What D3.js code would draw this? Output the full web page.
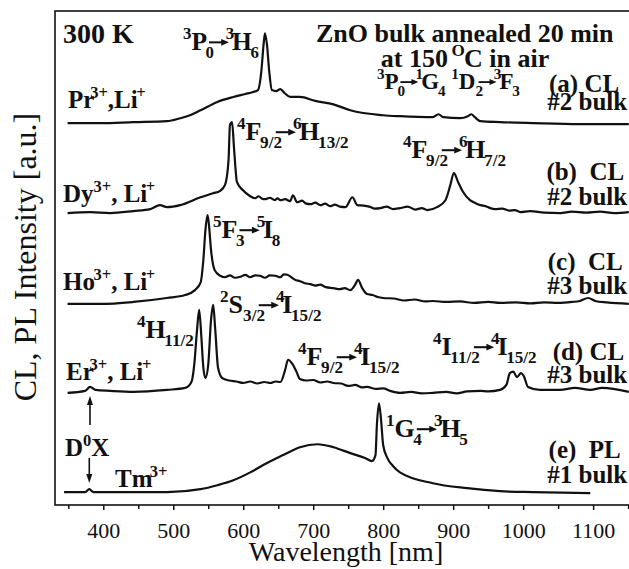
<!DOCTYPE html>
<html><head><meta charset="utf-8">
<script src="https://cdn.jsdelivr.net/npm/d3@7"></script>
<style>
html,body{margin:0;padding:0;background:#fff;}
svg{display:block;}
</style></head>
<body>
<svg id="chart" width="629" height="569"></svg>
<script>
// ---------------- data ----------------
const seriesNames = ["Pr", "Dy", "Ho", "Er", "Tm"];
const offsets = [77.3, 59.1, 40.7, 22.7, 2.6];
const majorTicks = [400, 500, 600, 700, 800, 900, 1000, 1100];
const minorTicks = [350, 450, 550, 650, 750, 850, 950, 1050, 1150];

const prSpectrum = [[349,0],[396,0],[443,0.2],[491,0.4],[510,1.0],[524,1.6],[539,2.6],[563,4.3],[586,5.3],[603,5.9],[614,6.3],[621,6.7],[626,10.7],[629,15.8],[631,18.2],[634,15.8],[637,10.7],[641,6.7],[647,6.5],[653,6.9],[659,6.1],[667,5.3],[681,5.3],[703,4.5],[729,3.8],[753,2.6],[800,1.6],[824,1.4],[871,1.2],[879,1.8],[886,1.2],[910,1.0],[921,1.4],[926,1.8],[931,1.2],[939,0.4],[967,0.2],[1014,0],[1081,-0.2],[1151,-0.2]];
const dySpectrum = [[349,0],[381,0.2],[410,0],[443,0.4],[467,0.8],[481,1.6],[491,1.2],[510,1.6],[539,3.2],[557,4.0],[567,4.5],[574,5.7],[579,10.7],[581,17.8],[584,18.4],[587,12.8],[591,6.3],[599,4.7],[610,3.4],[617,3.0],[622,3.4],[627,2.9],[631,2.8],[638,3.1],[645,2.6],[649,3.0],[653,2.6],[660,2.8],[667,2.4],[671,3.6],[677,2.2],[684,2.5],[690,1.9],[696,1.8],[703,2.1],[710,1.6],[717,1.9],[724,1.4],[731,1.7],[738,1.3],[746,1.2],[756,3.2],[763,1.6],[772,1.5],[780,1.3],[788,0.9],[796,1.0],[805,1.3],[814,0.8],[824,1.0],[835,1.3],[846,0.7],[855,1.0],[863,0.6],[877,1.2],[889,2.6],[896,5.7],[901,8.1],[907,6.3],[914,4.3],[924,2.6],[932,2.0],[939,1.6],[946,1.4],[953,1.0],[960,0.8],[970,0.9],[980,0.5],[988,0.6],[996,0.2],[1010,0.4],[1030,0.1],[1053,0],[1070,0.3],[1090,0.1],[1110,0.3],[1130,0],[1151,0.2]];
const hoSpectrum = [[349,0],[396,0],[443,0.4],[491,1.2],[517,1.8],[531,2.8],[539,4.3],[543,8.9],[546,15],[549,18],[551,16],[554,10.9],[559,6.9],[567,5.7],[574,5.4],[581,5.8],[588,5.3],[596,5.5],[603,5.9],[610,5.4],[617,5.8],[624,5.7],[631,5.3],[638,5.8],[646,5.7],[653,5.4],[658,6.0],[663,5.9],[674,4.9],[681,4.6],[688,4.2],[696,4.0],[703,3.7],[710,3.9],[718,3.4],[729,3.2],[738,3.0],[745,3.2],[753,2.8],[760,3.9],[764,4.9],[770,3.2],[777,2.0],[785,1.8],[792,1.4],[800,1.2],[815,1.1],[830,0.7],[845,0.9],[860,0.5],[871,0.6],[890,0.4],[910,0.5],[930,0.2],[950,0.4],[967,0.2],[990,0.3],[1010,0.1],[1030,0.3],[1050,0.2],[1070,0.4],[1081,0.6],[1093,1.2],[1103,0.6],[1120,0.3],[1151,0]];
const erSpectrum = [[349,0],[374,0.4],[381,1.2],[389,0.6],[410,0.4],[443,0.2],[491,0.6],[517,1.0],[526,2.2],[530,5.7],[534,12.8],[537,16.8],[540,11.7],[543,5.1],[546,3.0],[550,5.7],[554,14.8],[557,17.8],[560,12.8],[564,5.1],[570,3.0],[580,2.5],[590,2.3],[600,2.0],[610,2.3],[620,1.9],[630,2.2],[639,2.0],[646,2.3],[653,2.2],[660,4.7],[664,6.7],[670,5.9],[676,4.3],[681,2.8],[690,2.5],[700,2.6],[710,2.1],[720,2.3],[729,2.0],[740,1.9],[750,1.4],[760,1.6],[770,1.1],[777,1.2],[790,0.8],[800,0.9],[810,0.4],[824,0],[840,0.2],[855,-0.1],[871,0],[890,0.2],[905,-0.1],[920,0.3],[939,0.4],[950,0.3],[967,0.6],[976,1.6],[981,4.0],[986,4.3],[991,3.2],[997,4.0],[1001,3.4],[1007,1.2],[1024,0.6],[1053,0.6],[1074,1.0],[1096,0.6],[1113,1.0],[1151,0.2]];
const tmSpectrum = [[344,0],[374,0],[380,0.6],[386,0],[491,0],[539,0.6],[563,1.4],[586,2.4],[610,4.0],[634,5.9],[657,7.5],[681,9.1],[706,9.7],[729,9.1],[753,7.9],[774,6.9],[784,6.3],[789,7.5],[791,13.6],[794,18.0],[797,14.6],[800,9.5],[806,6.9],[814,5.3],[824,4.0],[871,1.8],[920,0.8],[967,0.2],[1014,0],[1096,-0.2]];
const spectra = [prSpectrum, dySpectrum, hoSpectrum, erSpectrum, tmSpectrum];

// ---------------- chart ----------------
const svg = d3.select("#chart");
const x = d3.scaleLinear().domain([331, 1167]).range([55, 640]);
const y = d3.scaleLinear().domain([0, 100]).range([505, 11]);

const SERIF = "'Liberation Serif','Times New Roman',Times,serif";

// frame
svg.append("rect").attr("x", 55).attr("y", 11).attr("width", 620).attr("height", 494)
  .attr("fill", "none").attr("stroke", "#111").attr("stroke-width", 1.6);

// axes
const axMajor = d3.axisBottom(x).tickValues(majorTicks).tickFormat(d3.format("d"))
  .tickSize(5).tickPadding(12).tickSizeOuter(0);
const gx = svg.append("g").attr("transform", "translate(0,505)").call(axMajor);
gx.select(".domain").remove();
gx.selectAll(".tick line").attr("stroke", "#111").attr("stroke-width", 1.5);
gx.selectAll(".tick text").attr("font-family", SERIF).attr("font-size", 22).attr("fill", "#111");
const axMinor = d3.axisBottom(x).tickValues(minorTicks).tickSize(4).tickFormat("").tickSizeOuter(0);
const gm = svg.append("g").attr("transform", "translate(0,505)").call(axMinor);
gm.select(".domain").remove();
gm.selectAll(".tick line").attr("stroke", "#111").attr("stroke-width", 1.5);

svg.append("text").attr("x", 346).attr("y", 561).attr("text-anchor", "middle")
  .attr("font-family", SERIF).attr("font-size", 28).attr("fill", "#111").text("Wavelength [nm]");
svg.append("text").attr("transform", "translate(36,257) rotate(-90)").attr("text-anchor", "middle")
  .attr("font-family", SERIF).attr("font-size", 32).attr("fill", "#111").text("CL, PL Intensity [a.u.]");

// spectra
const line = d3.line().x(d => x(d[0])).y(d => y(d[1])).curve(d3.curveMonotoneX);
spectra.forEach((s, i) => {
  svg.append("path").datum(s.map(d => [d[0], d[1] + offsets[i]]))
    .attr("d", line).attr("fill", "none").attr("stroke", "#111")
    .attr("stroke-width", 2.2).attr("stroke-linejoin", "round");
});

// ---------------- annotations ----------------
function rich(x0, y0, markup, size, anchorEnd) {
  const g = svg.append("g");
  const re = /\^\{([^}]*)\}|_\{([^}]*)\}|(>)|([^\^_>]+)/g;
  let m, cx = x0, prev = null, prevW = 0;
  const ss = size * 0.66;
  while ((m = re.exec(markup)) !== null) {
    if (m[1] !== undefined) {
      let sx = cx;
      if (prev === "arrow") sx = cx - size * 0.12;
      const t = g.append("text").attr("x", sx).attr("y", y0 - size * 0.42)
        .attr("font-size", ss).text(m[1]);
      const w = t.node().getComputedTextLength();
      cx = sx + w * (prev === "arrow" ? 0.75 : 1);
      prev = "sup"; prevW = w;
    } else if (m[2] !== undefined) {
      const t = g.append("text").attr("x", cx).attr("y", y0 + size * 0.3)
        .attr("font-size", ss).text(m[2]);
      const w = t.node().getComputedTextLength();
      cx += w; prev = "sub"; prevW = w;
    } else if (m[3] !== undefined) {
      let sx = prev === "sub" ? cx - Math.min(prevW, size * 0.4) * 0.6 : cx;
      const len = size * 0.78, ay = y0 - size * 0.3, hl = size * 0.3, hw = size * 0.13;
      g.append("line").attr("x1", sx).attr("x2", sx + len - hl + 1).attr("y1", ay).attr("y2", ay)
        .attr("stroke", "#111").attr("stroke-width", size * 0.08);
      g.append("path").attr("d", `M${sx + len - hl},${ay - hw}L${sx + len},${ay}L${sx + len - hl},${ay + hw}Z`)
        .attr("fill", "#111");
      cx = sx + len; prev = "arrow";
    } else {
      const t = g.append("text").attr("x", cx).attr("y", y0).attr("font-size", size)
        .attr("xml:space", "preserve").style("white-space", "pre").text(m[4]);
      const w = t.node().getComputedTextLength();
      cx += w; prev = "n"; prevW = w;
    }
  }
  g.selectAll("text").attr("font-family", SERIF).attr("font-weight", "bold").attr("fill", "#111");
  if (anchorEnd) g.attr("transform", `translate(${x0 - cx},0)`);
  return g;
}

function centered(cxm, y0, markup, size) {
  const g = rich(0, y0, markup, size);
  const bb = g.node().getBBox();
  g.attr("transform", `translate(${cxm - bb.width / 2 - bb.x},0)`);
}

rich(63, 43, "300 K", 28);
centered(465, 42, "ZnO bulk annealed 20 min", 26);
centered(465, 67, "at 150 ^{O}C in air", 26);

// Pr
rich(183, 50, "^{3}P_{0}>^{3}H_{6}", 25.5);
rich(377, 89, "^{3}P_{0}>^{1}G_{4} ^{1}D_{2}>^{3}F_{3}", 23);
rich(68, 108, "Pr^{3+},Li^{+}", 25);
rich(615, 92, "(a) CL", 25, true);
rich(623, 110, "#2 bulk", 25, true);

// Dy
rich(237, 140, "^{4}F_{9/2}>^{6}H_{13/2}", 26);
rich(403, 158, "^{4}F_{9/2}>^{6}H_{7/2}", 26);
rich(63, 202, "Dy^{3+}, Li^{+}", 25);
rich(620, 180, "(b)  CL", 25, true);
rich(623, 205, "#2 bulk", 25, true);

// Ho
rich(213, 238, "^{5}F_{3}>^{5}I_{8}", 26);
rich(63, 290, "Ho^{3+}, Li^{+}", 25);
rich(620, 270, "(c)  CL", 25, true);
rich(623, 294, "#3 bulk", 25, true);

// Er
rich(137, 338, "^{4}H_{11/2}", 26);
rich(220, 313, "^{2}S_{3/2}>^{4}I_{15/2}", 26);
rich(66, 380, "Er^{3+}, Li^{+}", 25);
rich(298, 365, "^{4}F_{9/2}>^{4}I_{15/2}", 26);
rich(433, 355, "^{4}I_{11/2}>^{4}I_{15/2}", 26);
rich(620, 360, "(d) CL", 25, true);
rich(623, 383, "#3 bulk", 25, true);

// Tm
rich(65, 456, "D^{0}X", 25);
rich(115, 487, "Tm^{3+}", 25);
rich(386, 437, "^{1}G_{4}>^{3}H_{5}", 26);
rich(618, 458, "(e)  PL", 25, true);
rich(623, 483, "#1 bulk", 25, true);

// D0X arrows
function vArrow(xp, yFrom, yTo) {
  const dir = yTo < yFrom ? -1 : 1;
  svg.append("line").attr("x1", xp).attr("x2", xp).attr("y1", yFrom).attr("y2", yTo - dir * 8)
    .attr("stroke", "#111").attr("stroke-width", 1.6);
  svg.append("path").attr("d", `M${xp - 3},${yTo - dir * 9}L${xp},${yTo}L${xp + 3},${yTo - dir * 9}Z`).attr("fill", "#111");
}
vArrow(x(381), 425, 396);
vArrow(x(380), 458, 483);
</script>
</body></html>
